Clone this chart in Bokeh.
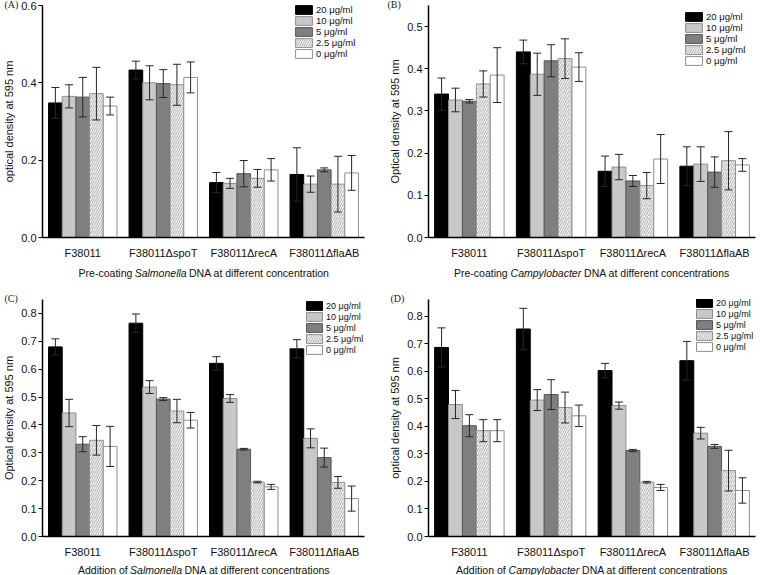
from bokeh.plotting import figure
from bokeh.models import (ColumnDataSource, FactorRange, Range1d, Whisker, TeeHead,
                          Legend, LegendItem, FixedTicker, PrintfTickFormatter, Title)
from bokeh.core.properties import value
from bokeh.transform import dodge
from bokeh.layouts import column, row
from bokeh.embed import file_html
from bokeh.resources import INLINE

STRAINS = ["F38011", "F38011\u0394spoT", "F38011\u0394recA", "F38011\u0394flaAB"]
CONCS = ["20 \u03bcg/ml", "10 \u03bcg/ml", "5 \u03bcg/ml", "2.5 \u03bcg/ml", "0 \u03bcg/ml"]

# rows: 20, 10, 5, 2.5, 0 ug/ml ; columns: strains
A_MEAN = [[0.348, 0.433, 0.142, 0.163],
          [0.365, 0.400, 0.140, 0.138],
          [0.363, 0.398, 0.165, 0.175],
          [0.372, 0.395, 0.153, 0.138],
          [0.340, 0.414, 0.175, 0.167]]
A_ERR = [[0.040, 0.023, 0.026, 0.069],
         [0.030, 0.044, 0.013, 0.021],
         [0.051, 0.036, 0.034, 0.005],
         [0.068, 0.053, 0.023, 0.072],
         [0.023, 0.040, 0.029, 0.045]]

B_MEAN = [[0.340, 0.440, 0.157, 0.169],
          [0.326, 0.387, 0.167, 0.174],
          [0.323, 0.419, 0.134, 0.155],
          [0.364, 0.424, 0.123, 0.182],
          [0.385, 0.404, 0.186, 0.172]]
B_ERR = [[0.038, 0.028, 0.036, 0.046],
         [0.028, 0.050, 0.030, 0.041],
         [0.004, 0.038, 0.013, 0.036],
         [0.031, 0.047, 0.031, 0.069],
         [0.065, 0.034, 0.058, 0.015]]

C_MEAN = [[0.680, 0.765, 0.621, 0.673],
          [0.443, 0.536, 0.495, 0.352],
          [0.331, 0.493, 0.313, 0.283],
          [0.345, 0.450, 0.195, 0.194],
          [0.323, 0.417, 0.178, 0.136]]
C_ERR = [[0.029, 0.033, 0.024, 0.033],
         [0.049, 0.023, 0.014, 0.034],
         [0.027, 0.005, 0.003, 0.034],
         [0.053, 0.042, 0.003, 0.021],
         [0.072, 0.028, 0.009, 0.045]]

D_MEAN = [[0.686, 0.753, 0.602, 0.638],
          [0.479, 0.495, 0.475, 0.375],
          [0.402, 0.515, 0.312, 0.327],
          [0.384, 0.468, 0.197, 0.239],
          [0.384, 0.438, 0.178, 0.167]]
D_ERR = [[0.071, 0.075, 0.026, 0.070],
         [0.051, 0.038, 0.013, 0.021],
         [0.040, 0.054, 0.004, 0.007],
         [0.040, 0.056, 0.003, 0.074],
         [0.040, 0.039, 0.011, 0.046]]

TICKS_A = [0.0, 0.2, 0.4, 0.6]
TICKS_B = [0.0, 0.1, 0.2, 0.3, 0.4, 0.5]
TICKS_CD = [0.0, 0.1, 0.2, 0.3, 0.4, 0.5, 0.6, 0.7, 0.8]

TITLE_A = ("Pre-coating", "Salmonella", "DNA at different concentration")
TITLE_B = ("Pre-coating", "Campylobacter", "DNA at different concentrations")
TITLE_C = ("Addition of", "Salmonella", "DNA at different concentrations")
TITLE_D = ("Addition of", "Campylobacter", "DNA at different concentrations")

# styles
FILLS = ["#000000", "#c8c8c8", "#7f7f7f", "#ffffff", "#ffffff"]
LINES = ["#000000", "#8f8f8f", "#555555", "#8f8f8f", "#8f8f8f"]
HATCH = [None, None, None, "/", None]
OFFS = [-0.34, -0.17, 0.0, 0.17, 0.34]
BAR_W = 0.17
SANS = "Liberation Sans"
SERIF = "Liberation Serif"
TSIZE = 10.5

AW = {' ': 278, 'A': 667, 'C': 722, 'D': 722, 'N': 722, 'P': 667, 'S': 667, 'a': 556, 'b': 556,
      'c': 500, 'd': 556, 'e': 556, 'f': 278, 'g': 556, 'i': 222, 'l': 222, 'm': 833, 'n': 556,
      'o': 556, 'p': 556, 'r': 333, 's': 500, 't': 278, 'y': 500, '-': 333}


def tw(s, size):
    return sum(AW.get(ch, 556) for ch in s) / 1000.0 * size


def panel(means, errs, ymax, yticks, ylabel, geom, leg, letter, let_off):
    W, H, L, R, T, B = geom
    leg_xy, leg_font, leg_gw = leg
    p = figure(width=W, height=H, x_range=FactorRange(*STRAINS), y_range=Range1d(0, ymax),
               output_backend="svg", toolbar_location=None,
               min_border_left=L, min_border_right=R, min_border_top=T, min_border_bottom=B)
    p.outline_line_color = None
    p.xgrid.grid_line_color = None
    p.ygrid.grid_line_color = None
    p.title = Title(text=letter, align="left", offset=let_off, standoff=-8,
                    text_font=SERIF, text_font_size="10px", text_font_style="normal",
                    text_color="#222222")

    items = []
    for i, c in enumerate(CONCS):
        src = ColumnDataSource(dict(strain=STRAINS, mean=means[i],
                                    upper=[m + e for m, e in zip(means[i], errs[i])],
                                    lower=[m - e for m, e in zip(means[i], errs[i])]))
        kw = {}
        if HATCH[i]:
            kw = dict(hatch_pattern=HATCH[i], hatch_color="#8a8a8a", hatch_scale=4.5, hatch_weight=0.8)
        r = p.vbar(x=dodge("strain", OFFS[i], range=p.x_range), top="mean", width=BAR_W, source=src,
                   fill_color=FILLS[i], line_color=LINES[i], line_width=1, **kw)
        w = Whisker(source=src, base=dodge("strain", OFFS[i], range=p.x_range), upper="upper",
                    lower="lower", level="annotation", line_color="#262626", line_width=1,
                    upper_head=TeeHead(size=8, line_color="#262626", line_width=1),
                    lower_head=TeeHead(size=8, line_color="#262626", line_width=1))
        p.add_layout(w)
        items.append(LegendItem(label=c, renderers=[r]))

    lg = Legend(items=items, location=leg_xy, border_line_color=None, background_fill_alpha=0,
                glyph_width=leg_gw, glyph_height=11, label_height=11, label_standoff=2, spacing=0,
                padding=0, margin=0, label_text_font_size=leg_font, label_text_font=SANS,
                label_text_color="#111111")
    p.add_layout(lg)

    ya = p.yaxis[0]
    ya.ticker = FixedTicker(ticks=yticks)
    ya.formatter = PrintfTickFormatter(format="%.1f")
    ya.minor_tick_line_color = None
    ya.major_tick_in = 0
    ya.major_tick_out = 4
    ya.major_label_standoff = 2
    ya.axis_label = ylabel
    ya.axis_label_standoff = 3
    ya.axis_label_text_font_style = "normal"
    ya.axis_label_text_font_size = "11px"
    ya.axis_label_text_font = SANS
    ya.axis_label_text_color = "#111111"

    xa = p.xaxis[0]
    xa.major_tick_line_color = None
    xa.minor_tick_line_color = None
    xa.major_label_standoff = 3

    for ax in (xa, ya):
        ax.axis_line_color = "black"
        ax.axis_line_width = 1.5
        ax.major_tick_line_width = 1.2
        ax.major_label_text_font = SANS
        ax.major_label_text_font_size = "11px"
        ax.major_label_text_color = "#111111"
    return p


def strip(W, H, L, R, title, title_top):
    """Text-only band whose frame lines up with the panel frame above it."""
    fw = W - L - R
    s = figure(width=W, height=H, x_range=Range1d(0, fw), y_range=Range1d(0, H),
               output_backend="svg", toolbar_location=None, x_axis_type=None, y_axis_type=None,
               min_border_left=L, min_border_right=R, min_border_top=0, min_border_bottom=0)
    s.outline_line_color = None
    s.xgrid.grid_line_color = None
    s.ygrid.grid_line_color = None
    pre, ital, post = title
    w1, w2, w3 = tw(pre, TSIZE), tw(ital, TSIZE), tw(post, TSIZE)
    sp = tw(" ", TSIZE)
    total = w1 + sp + w2 + sp + w3
    x0 = fw / 2.0 - total / 2.0
    xs = [x0, x0 + w1 + sp, x0 + w1 + sp + w2 + sp]
    styles = ["normal", "italic", "normal"]
    for txt, x, st in zip(title, xs, styles):
        s.text(x=[x], y=[H - title_top], text=[txt], text_font=value(SANS),
               text_font_size=value("%spx" % TSIZE), text_font_style=value(st),
               text_align=value("left"), text_baseline=value("top"), text_color=value("#111111"))
    return s


WL, WR = 378, 382
# (width, height, left, right, top, bottom borders)
GA = (WL, 261, 39, 14, 5, 17)
GB = (WR, 261, 50, 5, 5, 17)
GC = (WL, 266, 39, 14, 5, 17)
GD = (WR, 266, 50, 5, 5, 17)

pa = panel(A_MEAN, A_ERR, 0.6, TICKS_A, "optical density at 595 nm", GA,
           ((251, 178), "9.5px", 21), "(A)", -38)
pb = panel(B_MEAN, B_ERR, 0.55, TICKS_B, "Optical density at 595 nm", GB,
           ((255, 171), "9.5px", 21), "(B)", -41)
pc = panel(C_MEAN, C_ERR, 0.85, TICKS_CD, "Optical density at 595 nm", GC,
           ((262, 181), "9px", 20), "(C)", -38)
pd = panel(D_MEAN, D_ERR, 0.86, TICKS_CD, "optical density at 595 nm", GD,
           ((266, 184), "9px", 20), "(D)", -38)

s1a = strip(WL, 33, GA[2], GA[3], TITLE_A, 5)
s1b = strip(WR, 33, GB[2], GB[3], TITLE_B, 5)
s2a = strip(WL, 15, GC[2], GC[3], TITLE_C, 3)
s2b = strip(WR, 15, GD[2], GD[3], TITLE_D, 3)

left = column(pa, s1a, pc, s2a, spacing=0)
right = column(pb, s1b, pd, s2b, spacing=0)
layout = row(left, right, spacing=0)

open("out.html", "w").write(file_html(layout, INLINE))
